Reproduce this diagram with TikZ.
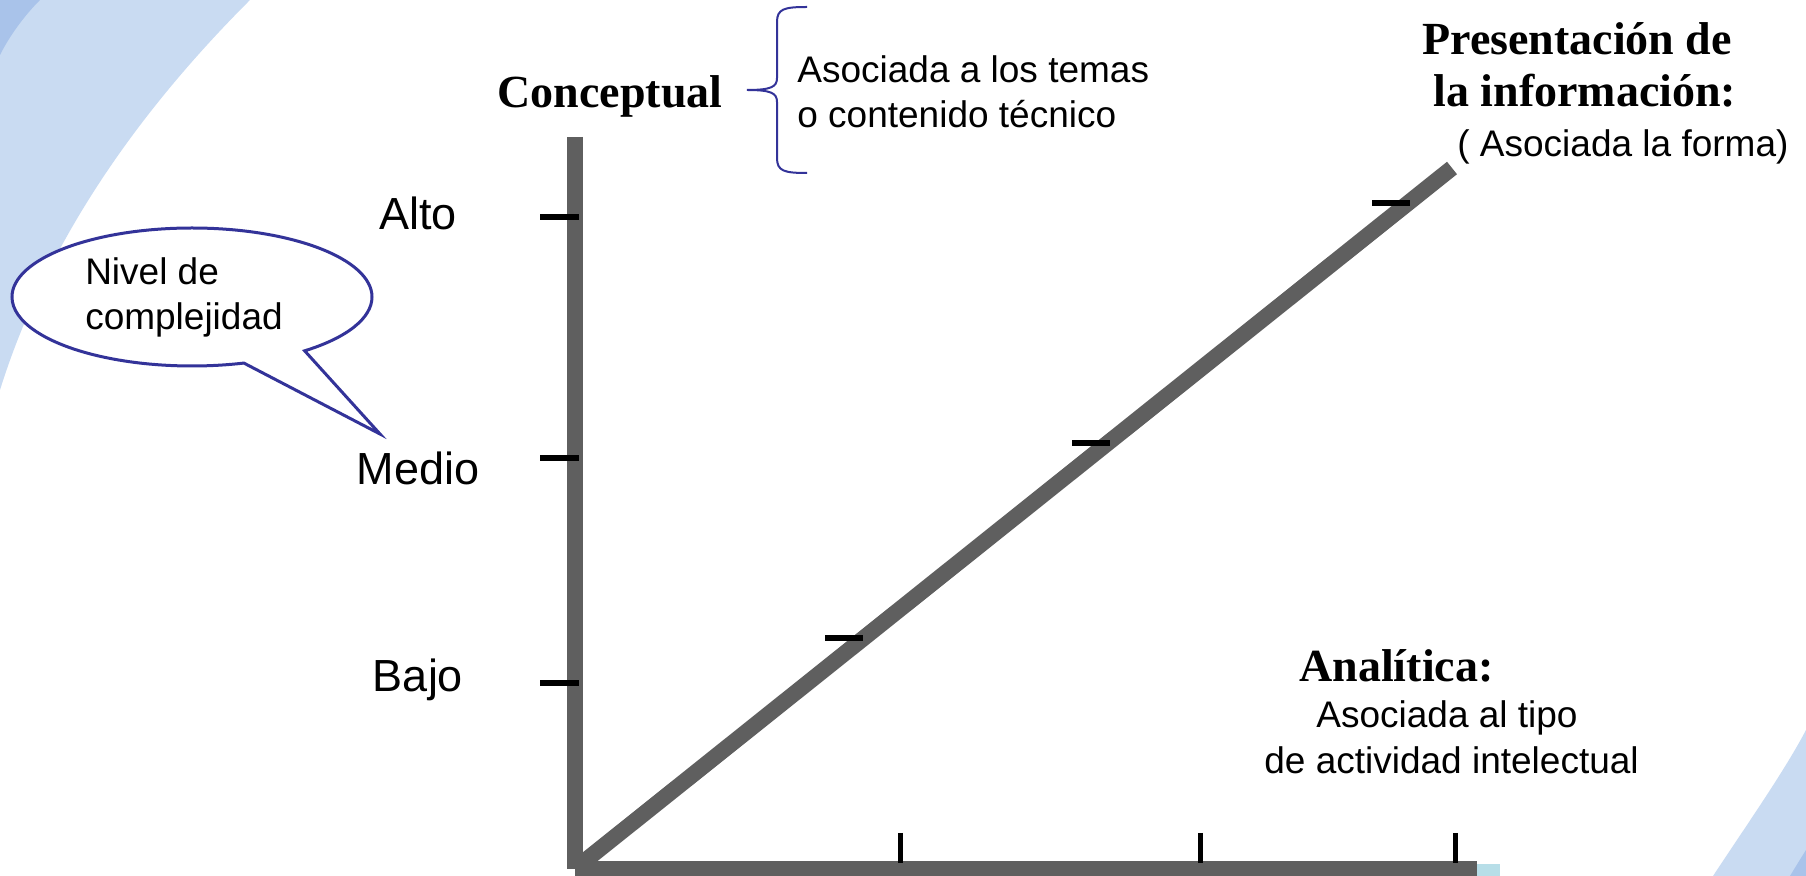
\documentclass[tikz,border=0pt]{standalone}
\usepackage{fontspec}
\setmainfont{Liberation Serif}
\newfontfamily\arialfont{Liberation Sans}
\usetikzlibrary{shapes.callouts}
\definecolor{axisgray}{HTML}{5F5F5F}
\definecolor{calloutblue}{HTML}{333399}
\definecolor{swlight}{HTML}{C9DBF2}
\definecolor{swmid}{HTML}{A9C3EA}
\definecolor{axcyan}{HTML}{B7DEE8}
\begin{document}
\begin{tikzpicture}[x=0.5pt,y=-0.5pt,
  axisline/.style={draw=axisgray,line width=8pt},
  ytickmark/.style={draw=black,line width=3pt},
  xtickmark/.style={draw=black,line width=2.5pt},
  axlabel/.style={font=\arialfont\fontsize{22.5}{27}\selectfont,inner sep=0pt},
  note/.style={font=\arialfont\fontsize{18.5}{22.5}\selectfont,inner sep=0pt},
  heading/.style={font=\bfseries\fontsize{23}{26}\selectfont,inner sep=0pt},
  bracestyle/.style={draw=calloutblue,line width=1pt},
]
\useasboundingbox (0,0) rectangle (1806,876);
% background swooshes
\fill[swlight] (0,0) -- (250,0) .. controls (150,100) and (50,230) .. (0,390) -- cycle;
\fill[swmid] (0,0) -- (40,0) .. controls (25,15) and (10,35) .. (0,55) -- cycle;
\fill[swlight] (1713,876) .. controls (1750,820) and (1785,770) .. (1806,730) -- (1806,876) -- cycle;
\fill[swmid] (1790,876) .. controls (1796,866) and (1801,858) .. (1806,850) -- (1806,876) -- cycle;
\fill[axcyan] (1477,864) rectangle (1500,876);
% axes
\coordinate (ytop) at (575,137);
\coordinate (ybot) at (575,869);
\coordinate (origin) at (575,868.5);
\coordinate (xend) at (1477,868.5);
\coordinate (dstart) at (576,868);
\coordinate (dend) at (1452,168);
\draw[axisline] (ytop) -- (ybot);
\draw[axisline,line width=7.5pt] (origin) -- (xend);
\draw[axisline] (dstart) -- (dend);
% ticks on vertical axis
\draw[ytickmark] (540,217) -- (579,217);
\draw[ytickmark] (540,458) -- (579,458);
\draw[ytickmark] (540,683) -- (579,683);
% ticks on horizontal axis
\draw[xtickmark] (900,833) -- (900,863);
\draw[xtickmark] (1200,833) -- (1200,863);
\draw[xtickmark] (1455,833) -- (1455,863);
% ticks on diagonal
\draw[ytickmark] (825,638) -- (863,638);
\draw[ytickmark] (1072,443) -- (1110,443);
\draw[ytickmark] (1372,203) -- (1410,203);
% labels
\node[axlabel,anchor=base] (alto) at (418,230) {Alto};
\node[axlabel,anchor=base] (medio) at (418,485) {Medio};
\node[axlabel,anchor=base] (bajo) at (418,692) {Bajo};
\node[heading,anchor=base east] (conceptual) at (723,108) {Conceptual};
\node[note,anchor=base west] (asoc1) at (797,83) {Asociada a los temas};
\node[note,anchor=base west] (asoc2) at (797,128) {o contenido técnico};
\draw[bracestyle] (807,7) .. controls (784,7) and (777,9) .. (777,22) -- (777,78)
  .. controls (777,87) and (771,90) .. (747,90)
  .. controls (771,90) and (777,93) .. (777,102) -- (777,158)
  .. controls (777,171) and (784,173) .. (807,173);
\node[heading,anchor=base west] (pres1) at (1422,55) {Presentación de};
\node[heading,anchor=base west] (pres2) at (1433,107) {la información:};
\node[note,anchor=base west] (forma) at (1457,157) {( Asociada la forma)};
\node[heading,anchor=base west] (anal) at (1299,682) {Analítica:};
\node[note,anchor=base west] (tipo1) at (1316,728) {Asociada al tipo};
\node[note,anchor=base west] (tipo2) at (1264,774) {de actividad intelectual};
% callout
\node[ellipse callout,draw=calloutblue,line width=1.5pt,fill=white,
  minimum width=180pt,minimum height=69pt,
  callout absolute pointer={(380,434)},callout pointer arc=22,
  align=left,font=\arialfont\fontsize{18.5}{22.5}\selectfont,inner sep=0pt]
  (nivel) at (192,297) {\hspace*{-8pt}Nivel de\\\hspace*{-8pt}complejidad};
\end{tikzpicture}
\end{document}
